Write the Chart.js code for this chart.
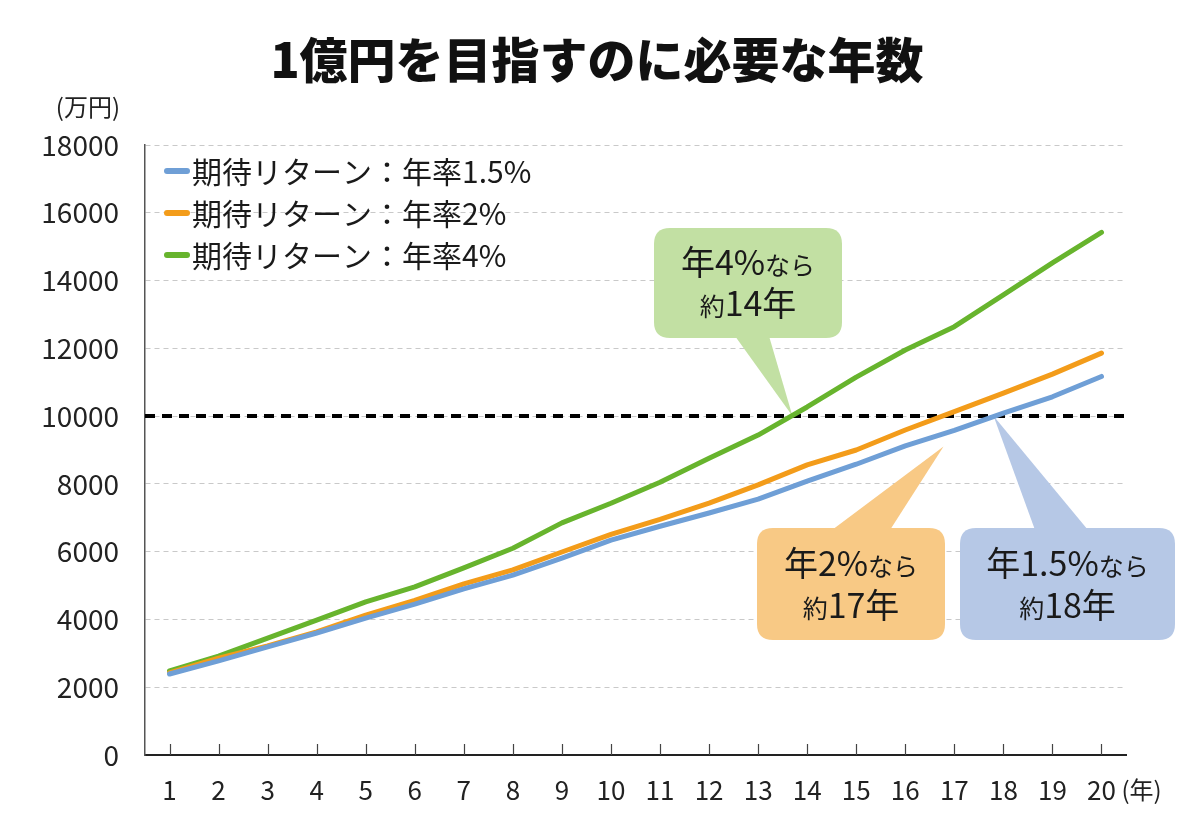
<!DOCTYPE html>
<html>
<head>
<meta charset="utf-8">
<script src="https://cdn.jsdelivr.net/npm/chart.js@4.4.1/dist/chart.umd.min.js"></script>
<style>
html,body{margin:0;padding:0;background:#fff;}
canvas{display:block;}
</style>
</head>
<body>
<canvas id="c" width="1200" height="813"></canvas>
<script>
const TITLE = '1億円を目指すのに必要な年数';
const Y_UNIT = '(万円)';
const X_UNIT = '(年)';
const years = ['1','2','3','4','5','6','7','8','9','10','11','12','13','14','15','16','17','18','19','20'];
const yTickValues = [0,2000,4000,6000,8000,10000,12000,14000,16000,18000];
const seriesLabels = ['期待リターン：年率1.5%','期待リターン：年率2%','期待リターン：年率4%'];
const rate15 = [2390,2780,3190,3600,4040,4450,4900,5310,5810,6340,6750,7140,7550,8080,8580,9120,9580,10090,10570,11170];
const rate2  = [2420,2860,3220,3630,4130,4560,5050,5460,5990,6510,6950,7430,7970,8560,9000,9590,10130,10680,11240,11860];
const rate4  = [2480,2920,3450,3980,4520,4960,5520,6100,6850,7430,8050,8760,9440,10270,11150,11950,12640,13575,14520,15420];
const TARGET = 10000;
// callouts: where the pointer touches (year position, value)
const callouts = [
  {lines:[[['年4%',34],['なら',25]],[['約',25],['14年',34]]], tipYear:13.7, tipValue:TARGET, fill:'#c2e0a3', box:[654,228,188,110], base:[735,769]},
  {lines:[[['年2%',34],['なら',25]],[['約',25],['17年',34]]], tipYear:16.78, tipValue:9100, fill:'#f8c985', box:[757,528,188,112], base:[832,890]},
  {lines:[[['年1.5%',34],['なら',25]],[['約',25],['18年',34]]], tipYear:17.8, tipValue:TARGET, fill:'#b6c8e6', box:[960,528,215,112], base:[1035,1088]}
];
const colors = ['#6f9fd6','#f39c1a','#67b42d'];

const FONT = '"Noto Sans CJK JP","Noto Sans",sans-serif';

function xForYear(chart, yr){
  const xs = chart.scales.x;
  const i = Math.floor(yr) - 1;
  const f = yr - Math.floor(yr);
  const a = xs.getPixelForValue(i);
  const b = xs.getPixelForValue(Math.min(i+1, years.length-1));
  return a + (b - a) * f;
}
function roundRect(ctx,x,y,w,h,r){
  ctx.beginPath();
  ctx.moveTo(x+r,y);
  ctx.lineTo(x+w-r,y);ctx.quadraticCurveTo(x+w,y,x+w,y+r);
  ctx.lineTo(x+w,y+h-r);ctx.quadraticCurveTo(x+w,y+h,x+w-r,y+h);
  ctx.lineTo(x+r,y+h);ctx.quadraticCurveTo(x,y+h,x,y+h-r);
  ctx.lineTo(x,y+r);ctx.quadraticCurveTo(x,y,x+r,y);
  ctx.closePath();
}
function richText(ctx, segs, cx, cy){
  let total = 0;
  const widths = segs.map(s=>{ctx.font = '400 '+s[1]+'px '+FONT; const w = ctx.measureText(s[0]).width; total += w; return w;});
  let x = cx - total/2;
  ctx.textBaseline = 'alphabetic';
  ctx.textAlign = 'left';
  segs.forEach((s,i)=>{ctx.font = '400 '+s[1]+'px '+FONT; ctx.fillText(s[0], x, cy); x += widths[i];});
}

const decor = {
  id:'decor',
  beforeDatasetsDraw(chart){
    const ctx = chart.ctx, ys = chart.scales.y, ca = chart.chartArea;
    callouts.forEach(c=>{
      const tx = xForYear(chart, c.tipYear), ty = ys.getPixelForValue(c.tipValue);
      const [bx,by,bw,bh] = c.box;
      ctx.save();
      ctx.fillStyle = c.fill;
      roundRect(ctx,bx,by,bw,bh,16);
      ctx.fill();
      const baseY = ty < by ? by + 2 : by + bh - 2;
      ctx.beginPath();
      ctx.moveTo(c.base[0], baseY);
      ctx.lineTo(c.base[1], baseY);
      ctx.lineTo(tx, ty);
      ctx.closePath();
      ctx.fill();
      ctx.fillStyle = '#1a1a1a';
      const cx = bx + bw/2;
      richText(ctx, c.lines[0], cx, by + bh*0.43);
      richText(ctx, c.lines[1], cx, by + bh*0.80);
      ctx.restore();
    });
    const yT = ys.getPixelForValue(TARGET);
    ctx.save();
    ctx.strokeStyle = '#000';
    ctx.lineWidth = 4;
    ctx.setLineDash([10,7]);
    ctx.beginPath();
    ctx.moveTo(ca.left, yT);
    ctx.lineTo(ca.right, yT);
    ctx.stroke();
    ctx.restore();
  },
  afterDraw(chart){
    const ctx = chart.ctx, xs = chart.scales.x, ca = chart.chartArea;
    ctx.save();
    ctx.strokeStyle = '#444';
    ctx.lineWidth = 1.2;
    for(let i=0;i<years.length;i++){
      const x = Math.round(xs.getPixelForTick(i))+0.5;
      ctx.beginPath(); ctx.moveTo(x, ca.bottom); ctx.lineTo(x, ca.bottom-11); ctx.stroke();
    }
    ctx.fillStyle = '#111';
    ctx.font = '900 48px ' + FONT;
    ctx.textAlign = 'center';
    ctx.textBaseline = 'middle';
    ctx.fillText(TITLE, 597, 60);
    ctx.font = '400 24px ' + FONT;
    ctx.fillStyle = '#222';
    ctx.textAlign = 'right';
    ctx.fillText(Y_UNIT, 120, 107);
    ctx.textAlign = 'left';
    ctx.fillText(X_UNIT, xs.getPixelForTick(years.length-1) + 20, 790);
    ctx.font = '400 30px ' + FONT;
    ctx.textBaseline = 'middle';
    chart.data.datasets.forEach((ds,i)=>{
      const y = 171 + i*42;
      ctx.strokeStyle = ds.borderColor;
      ctx.lineWidth = 6;
      ctx.lineCap = 'round';
      ctx.beginPath(); ctx.moveTo(167, y); ctx.lineTo(187, y); ctx.stroke();
      ctx.fillStyle = '#1a1a1a';
      ctx.fillText(ds.label, 192, y+1);
    });
    ctx.restore();
  }
};

new Chart(document.getElementById('c'), {
  type:'line',
  data:{
    labels: years,
    datasets:[
      {label:seriesLabels[0], data:rate15, borderColor:colors[0]},
      {label:seriesLabels[1], data:rate2, borderColor:colors[1]},
      {label:seriesLabels[2], data:rate4, borderColor:colors[2]}
    ].map(d=>Object.assign(d,{borderWidth:5, pointRadius:0, tension:0, fill:false, borderCapStyle:'round', borderJoinStyle:'round'}))
  },
  options:{
    responsive:false,
    animation:false,
    layout:{padding:{left:0, top:145, right:74, bottom:0}},
    plugins:{legend:{display:false}, title:{display:false}, tooltip:{enabled:false}},
    scales:{
      x:{
        type:'category',
        offset:true,
        grid:{display:false, drawTicks:false},
        border:{display:true, color:'#222', width:2},
        ticks:{color:'#222', font:{family:FONT, size:26}, padding:20, maxRotation:0, autoSkip:false},
        afterFit(s){ s.height = 58; }
      },
      y:{
        min:0, max:18000,
        afterBuildTicks(s){ s.ticks = yTickValues.map(v=>({value:v})); },
        grid:{color:'#c9c9c9', lineWidth:1, drawTicks:false},
        border:{display:true, color:'#555', width:1.5, dash:[5,4]},
        ticks:{color:'#222', font:{family:FONT, size:28}, padding:26, callback:(v)=>String(v)},
        afterFit(s){ s.width = 145; }
      }
    }
  },
  plugins:[decor]
});
</script>
</body>
</html>
